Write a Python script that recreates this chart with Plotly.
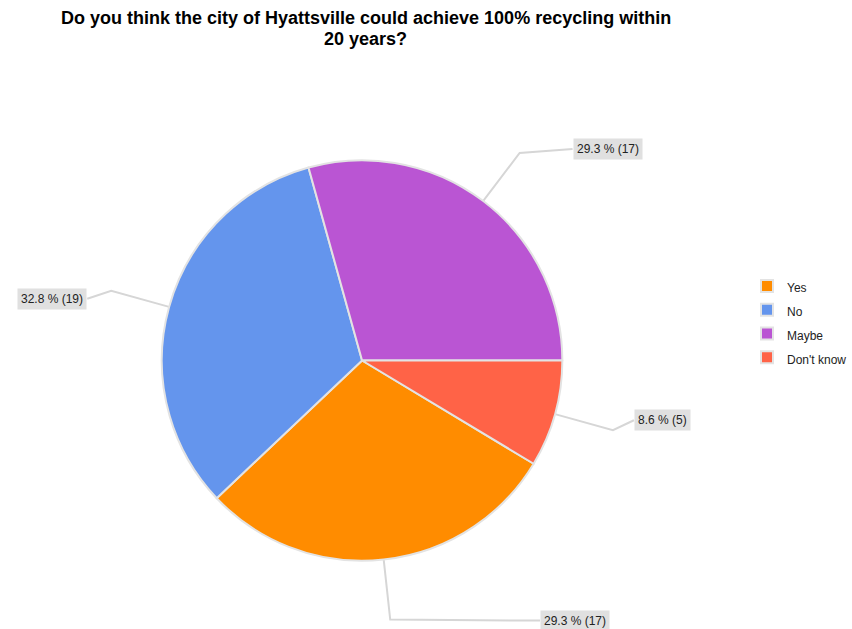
import math
import plotly.graph_objects as go

# Survey responses
categories = ["Yes", "No", "Maybe", "Don't know"]
counts = [17, 19, 17, 5]
colors = ["#FF8C00", "#6495ED", "#BA55D3", "#FF6347"]
title_lines = [
    "Do you think the city of Hyattsville could achieve 100% recycling within",
    "20 years?",
]

W, H = 852, 629
# pie placement in pixels
cx, cy, r = 362.5, 360.5, 200.5
# "Don't know" (last slice) ends at 3 o'clock, so the first slice starts after it
total = sum(counts)
rotation = 90 + 360 * counts[-1] / total

# label box shift from the leader-line elbow (pixels, dx, dy)
label_shift = [(150, 1), (-24, 8), (53, -4), (21, -10)]


def px(x):
    return x / W


def py(y):
    return 1 - y / H


fig = go.Figure(
    go.Pie(
        labels=[f"<span style='font-size:12px'>{c}</span>" for c in categories],
        values=counts,
        marker=dict(colors=colors, line=dict(color="#e3e3e3", width=2)),
        sort=False,
        direction="clockwise",
        rotation=rotation,
        textinfo="none",
        domain=dict(x=[px(cx - r), px(cx + r)], y=[py(cy + r), py(cy - r)]),
        hoverinfo="label+percent+value",
    )
)

shapes = []
annotations = []
angle = rotation
for cat, v, (sx, sy) in zip(categories, counts, label_shift):
    span = 360 * v / total
    mid = math.radians(angle + span / 2)
    angle += span
    ex, ey = cx + r * math.sin(mid), cy - r * math.cos(mid)
    kx, ky = cx + 1.3 * r * math.sin(mid), cy - 1.3 * r * math.cos(mid)
    bx, by = kx + sx, ky + sy
    shapes.append(dict(
        type="path", xref="paper", yref="paper",
        path=f"M{px(ex)},{py(ey)} L{px(kx)},{py(ky)} L{px(bx)},{py(by)}",
        line=dict(color="#d6d6d6", width=2), layer="below",
    ))
    pct = 100 * v / total
    annotations.append(dict(
        x=px(bx), y=py(by), xref="paper", yref="paper",
        text=f"{pct:.1f} % ({v})", showarrow=False,
        xanchor="left" if sx > 0 else "right", yanchor="middle",
        bgcolor="#e0e0e0", borderpad=3,
        font=dict(family="Liberation Sans, Arial", size=12, color="#222222"),
    ))

# chart title, two lines
for i, line in enumerate(title_lines):
    annotations.append(dict(
        text=f"<b>{line}</b>",
        x=px(366), y=py(6 + 21 * i), xref="paper", yref="paper",
        xanchor="center", yanchor="top", showarrow=False,
        font=dict(family="Liberation Sans, Arial", size=18, color="black"),
    ))

fig.update_layout(
    width=W, height=H,
    margin=dict(l=0, r=0, t=0, b=0),
    paper_bgcolor="white", plot_bgcolor="white",
    legend=dict(
        x=px(748), y=py(269), xanchor="left", yanchor="top",
        font=dict(family="Liberation Sans, Arial", size=16, color="#222222"),
        bgcolor="rgba(0,0,0,0)",
    ),
    shapes=shapes,
    annotations=annotations,
)

fig.write_html("out.html")
